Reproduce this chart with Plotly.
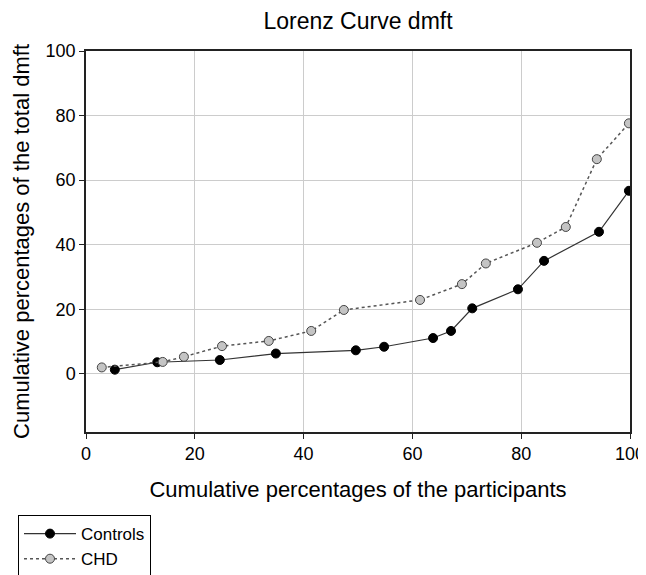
import plotly.graph_objects as go

controls_x = [5.3, 13.1, 24.6, 34.9, 49.6, 54.8, 63.8, 67.1, 71.0, 79.4, 84.2, 94.3, 99.8]
controls_y = [1.3, 3.6, 4.3, 6.3, 7.3, 8.4, 11.1, 13.3, 20.3, 26.2, 35.0, 44.0, 56.7]

chd_x = [2.9, 14.1, 18.0, 25.0, 33.6, 41.4, 47.4, 61.4, 69.1, 73.5, 82.9, 88.2, 93.9, 99.8]
chd_y = [2.0, 3.7, 5.3, 8.6, 10.2, 13.3, 19.8, 22.9, 27.8, 34.2, 40.6, 45.5, 66.5, 77.6]

tick_vals = [0, 20, 40, 60, 80, 100]

# page body has an 8px margin; figure sized so page is 646x575
W, H = 638, 567
L, R, T, B = 78, 16, 43, 143

fig = go.Figure()
fig.add_trace(go.Scatter(
    x=controls_x, y=controls_y, name="Controls", mode="lines+markers",
    line=dict(color="#333333", width=1.2),
    marker=dict(color="black", size=9, line=dict(color="black", width=1)),
))
fig.add_trace(go.Scatter(
    x=chd_x, y=chd_y, name="CHD", mode="lines+markers",
    line=dict(color="#555555", width=1.5, dash="dot"),
    marker=dict(color="#c4c4c4", size=9, line=dict(color="#444444", width=1)),
))

fig.update_layout(
    width=W, height=H,
    margin=dict(l=L, r=R, t=T, b=B, autoexpand=False),
    paper_bgcolor="white", plot_bgcolor="white",
    font=dict(family="Liberation Sans, Arial, sans-serif", color="black", size=17),
    title=dict(text="Lorenz Curve dmft", x=350 / W, xanchor="center",
               y=1 - 13 / H, yanchor="middle", font=dict(size=23)),
    showlegend=True,
    legend=dict(x=-0.125, xanchor="left", y=-0.218, yanchor="top",
                bordercolor="black", borderwidth=1, bgcolor="white",
                font=dict(size=17), tracegroupgap=0, itemwidth=52,
                entrywidth=92),
)
fig.update_xaxes(
    range=[0, 100], tickvals=tick_vals, showgrid=True, gridcolor="#cccccc", gridwidth=1,
    zeroline=False, showline=True, linecolor="#222222", linewidth=1.5, mirror=True,
    ticks="outside", ticklen=5, tickcolor="#222222", automargin=False,
    title=dict(text="Cumulative percentages of the participants", font=dict(size=22), standoff=18),
    tickfont=dict(size=18),
)
fig.update_yaxes(
    range=[-18, 100], tickvals=tick_vals, showgrid=True, gridcolor="#cccccc", gridwidth=1,
    zeroline=False, showline=True, linecolor="#222222", linewidth=1.5, mirror=True,
    ticks="outside", ticklen=5, tickcolor="#222222", automargin=False,
    title=dict(text="Cumulative percentages of the total dmft", font=dict(size=22), standoff=10),
    tickfont=dict(size=18),
)

fig.write_html("out.html")
